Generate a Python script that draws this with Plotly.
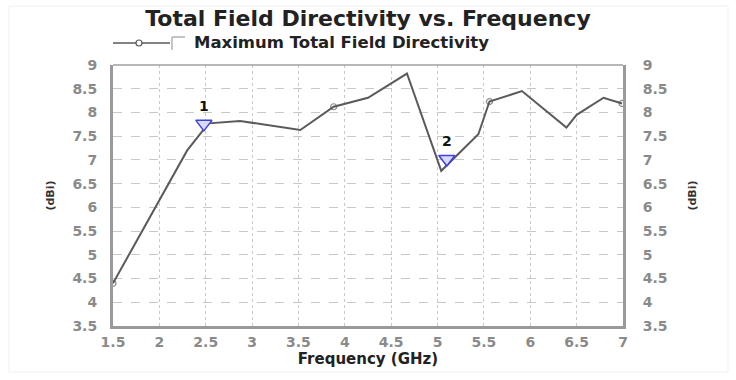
import plotly.graph_objects as go

freq = [1.5, 2.3, 2.53, 2.87, 3.52, 3.88, 4.25, 4.67, 5.04, 5.44, 5.56, 5.91, 6.39, 6.5, 6.79, 6.99]
directivity = [4.4, 7.2, 7.77, 7.82, 7.63, 8.12, 8.31, 8.82, 6.77, 7.54, 8.23, 8.45, 7.68, 7.95, 8.31, 8.19]
marker_sizes = [6, 0, 0, 0, 0, 6, 0, 0, 0, 0, 6, 0, 0, 0, 0, 6]

mark_freq = [2.48, 5.1]
mark_val = [7.76, 7.02]
mark_labels = ["1", "2"]

xticks = [1.5, 2, 2.5, 3, 3.5, 4, 4.5, 5, 5.5, 6, 6.5, 7]
yticks = [3.5, 4, 4.5, 5, 5.5, 6, 6.5, 7, 7.5, 8, 8.5, 9]

series_name = "Maximum Total Field Directivity"

FONT = "DejaVu Sans"
tickfont = dict(family=FONT, size=14, color="#8a8a8a", weight="bold")

W, H = 736, 380
L, R, T, B = 113, 113, 65, 54
PW, PH = W - L - R, H - T - B


def px(x):
    return (x - L) / PW


def py(y):
    return (H - B - y) / PH


fig = go.Figure()
fig.add_trace(go.Scatter(
    x=freq, y=directivity, mode="lines+markers",
    name=series_name, showlegend=False,
    line=dict(color="#5a5a5a", width=2),
    marker=dict(size=marker_sizes, symbol="circle-open", color="#5a5a5a", line=dict(width=1.2)),
))
fig.add_trace(go.Scatter(
    x=mark_freq, y=mark_val, mode="markers+text", text=mark_labels,
    textposition="top center", showlegend=False,
    textfont=dict(family=FONT, size=14, color="#111", weight="bold"),
    marker=dict(symbol="triangle-down", size=14, color="#d8d8f8", line=dict(color="#4040e0", width=1.5)),
))
fig.add_trace(go.Scatter(x=[freq[0]], y=[directivity[0]], yaxis="y2", mode="markers",
                         marker=dict(opacity=0), showlegend=False, hoverinfo="skip"))

# custom legend entry
ly = py(43)
shapes = [
    dict(type="line", xref="paper", yref="paper", x0=0, x1=1, y0=1, y1=1,
         line=dict(color="#a0a0a0", width=1.5)),
    dict(type="line", xref="paper", yref="paper", x0=px(113), x1=px(170), y0=ly, y1=ly,
         line=dict(color="#5a5a5a", width=1.5)),
    dict(type="circle", xref="paper", yref="paper", x0=px(136), x1=px(142), y0=py(46), y1=py(40),
         line=dict(color="#5a5a5a", width=1.2), fillcolor="white"),
    dict(type="line", xref="paper", yref="paper", x0=px(172), x1=px(185), y0=py(37), y1=py(37),
         line=dict(color="#b0b0b0", width=1.5)),
    dict(type="line", xref="paper", yref="paper", x0=px(172), x1=px(172), y0=py(37), y1=py(50),
         line=dict(color="#b0b0b0", width=1.5)),
    dict(type="rect", xref="paper", yref="paper", x0=px(9), x1=px(728), y0=py(372), y1=py(6),
         line=dict(color="#f0f0f0", width=1)),
]
annotations = [
    dict(text=series_name, xref="paper", yref="paper", x=px(192), y=ly, xanchor="left",
         yanchor="middle", showarrow=False,
         font=dict(family=FONT, size=16.5, color="#222", weight="bold")),
]

fig.update_layout(
    width=W, height=H,
    margin=dict(l=L, r=R, t=T, b=B),
    paper_bgcolor="white", plot_bgcolor="white",
    title=dict(text="Total Field Directivity vs. Frequency", x=0.5, xanchor="center",
               y=1 - 18/380, yanchor="middle",
               font=dict(family=FONT, size=22, color="#222", weight="bold")),
    showlegend=False,
    xaxis=dict(range=[1.5, 7], tickvals=xticks, ticktext=[f"{v:g}" for v in xticks],
               showgrid=True, gridcolor="#c8c8c8", griddash="dot", gridwidth=1,
               showline=True, linecolor="#9a9a9a", linewidth=3,
               ticks="", tickfont=tickfont, ticklabelstandoff=1,
               title=dict(text="Frequency (GHz)", standoff=0,
                          font=dict(family=FONT, size=15, color="#222", weight="bold")),
               zeroline=False),
    yaxis=dict(range=[3.5, 9], tickvals=yticks, ticktext=[f"{v:g}" for v in yticks],
               showgrid=True, gridcolor="#c8c8c8", griddash="dash", gridwidth=1,
               showline=True, linecolor="#9a9a9a", linewidth=3,
               ticks="", tickfont=tickfont, ticklabelstandoff=10,
               title=dict(text="(dBi)", standoff=16,
                          font=dict(family=FONT, size=11, color="#333", weight="bold")),
               zeroline=False),
    yaxis2=dict(range=[3.5, 9], tickvals=yticks, ticktext=[f"{v:g}" for v in yticks],
                overlaying="y", side="right", showgrid=False,
                showline=True, linecolor="#9a9a9a", linewidth=3,
                ticks="", tickfont=tickfont, ticklabelstandoff=14,
                title=dict(text="(dBi)", standoff=22,
                           font=dict(family=FONT, size=11, color="#333", weight="bold")),
                zeroline=False),
    shapes=shapes,
    annotations=annotations,
)

fig.write_html("out.html")
